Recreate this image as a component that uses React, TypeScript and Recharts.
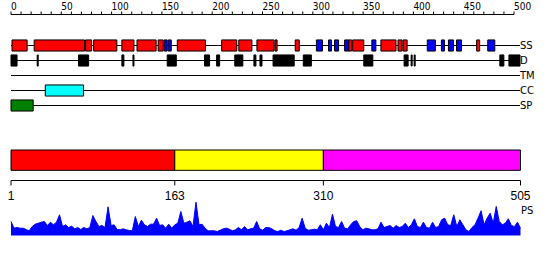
import React from 'react';
import { ComposedChart, AreaChart, Area, XAxis, YAxis, ReferenceArea } from 'recharts';

// track rows, top to bottom
const trackNames = ['SS', 'D', 'TM', 'CC', 'SP'];

// secondary structure: helix (red) and strand (blue), residue ranges
const helixSegments: [number, number][] = [
  [1, 16], [23, 73], [74, 80], [82, 105], [110, 122], [125, 144], [146, 151],
  [165, 193], [209, 224], [226, 239], [244, 261], [262, 264], [282, 286],
  [335, 338], [339, 350], [367, 382], [384, 388], [389, 393], [462, 465],
];
const strandSegments: [number, number][] = [
  [152, 155], [156, 159], [303, 309], [315, 318], [321, 325], [331, 335],
  [358, 362], [413, 421], [427, 430], [434, 439], [442, 447], [473, 480],
];
// disorder
const disorderSegments: [number, number][] = [
  [0, 6], [26, 27], [67, 77], [110, 112], [121, 122], [155, 164], [192, 197],
  [204, 207], [222, 230], [241, 243], [247, 249], [260, 281], [290, 298],
  [350, 359], [390, 394], [397, 398], [400, 401], [485, 489], [494, 505],
];
const tmSegments: [number, number][] = [];
const coiledCoilSegments: [number, number][] = [[34, 72]];
const signalPeptideSegments: [number, number][] = [[0, 22]];

const seqLength = 505;
const rulerTicks = Array.from({ length: 51 }, (_, i) => i * 10);

// domain boundaries and colours
const domainBounds = [1, 163, 310, 505];
const domainColors = ['#ff0000', '#ffff00', '#ff00ff'];

// PS profile, one value every 3 residues starting at residue 1
const psStart = 1;
const psStep = 3;
const psScores = [
  14, 7.3, 8, 7.3, 7.3, 6, 4.7, 9, 11.3, 12.3, 13.3, 14, 10, 13.3, 10.7, 13.3, 20.7,
  9, 10.7, 8, 9.3, 6.7, 8, 6, 8, 6.7, 8, 20, 14, 9, 10, 8, 28.7, 10, 10.7, 6, 5.7,
  6.7, 5.7, 5, 4.7, 19, 9, 15.3, 10.7, 9, 11.3, 11.3, 17.3, 10, 10.7, 7.3, 11.3,
  7.3, 10.7, 12.3, 24,
  12.3, 13.3, 14.7, 9, 33.3, 10.7, 11.3, 7.3, 4.7, 4.7, 4.7, 4, 5.3, 6.7, 7.3, 6.3,
  4.7, 5.7, 8, 5.7, 9, 5.7, 6.7, 7.3, 14, 6.7, 5.3, 8, 8, 6.7, 4.7, 4, 5.3, 4, 4.7,
  5.7, 6.7, 5.3, 8, 17.3, 7.3, 5.3, 5.7, 6.3, 5.7, 10.7, 5.7, 12.3, 8, 21.3, 9, 8,
  14, 7.3, 6.7, 10.7, 14,
  14.7, 9, 5.7, 7.3, 6.7, 5.7, 5.7, 6.7, 13.3, 8, 9, 10, 7.3, 10, 8, 9, 12.3, 8,
  10.7, 16.7, 9, 8, 13.3, 8, 7.3, 13.3, 8, 9, 15.7, 17.3, 10.7, 10, 20.7, 9, 15.7,
  10.7, 5.7, 4, 8, 10.7, 17.3, 24.7, 10.7, 17.3, 22.3, 12.3, 29, 14, 10.7, 12.3,
  16.7, 10, 9, 13.3, 7.3,
];

const psData = psScores.map((score, i) => ({ pos: psStart + i * psStep, score }));
const trackData = trackNames.map((name, i) => ({ pos: 0, row: i + 1, name }));
const domainData = domainBounds.map((pos) => ({ pos, level: 0 }));

const tracks = [
  { row: 1, segs: helixSegments, fill: '#ff0000' },
  { row: 1, segs: strandSegments, fill: '#0000ff' },
  { row: 2, segs: disorderSegments, fill: '#000000' },
  { row: 3, segs: tmSegments, fill: '#808080' },
  { row: 4, segs: coiledCoilSegments, fill: '#00ffff' },
  { row: 5, segs: signalPeptideSegments, fill: '#008000' },
];

const layer: React.CSSProperties = { position: 'absolute', left: 0, top: 0 };

function RulerTick(props: any) {
  const { x, y, payload } = props;
  if (payload.value % 50 !== 0) return <g />;
  return (
    <text
      x={x}
      y={y}
      fontSize={10}
      fontFamily="'Liberation Sans Narrow', 'DejaVu Sans Condensed', sans-serif"
      fill="#000"
    >
      {payload.value}
    </text>
  );
}

export default function App() {
  return (
    <div
      style={{
        position: 'absolute',
        left: 0,
        top: 0,
        width: 550,
        height: 260,
        background: '#fff',
        fontFamily: "'DejaVu Sans', sans-serif",
      }}
    >
      {/* ruler */}
      <div style={layer}>
        <ComposedChart
          width={550}
          height={30}
          data={rulerTicks.map((pos) => ({ pos }))}
          margin={{ top: 0, right: 36, bottom: 0, left: 11 }}
        >
          <XAxis
            type="number"
            dataKey="pos"
            orientation="top"
            domain={[0, 500]}
            allowDataOverflow
            ticks={rulerTicks}
            interval={0}
            height={14.5}
            tickSize={3}
            tickMargin={1.5}
            axisLine={{ stroke: '#000' }}
            tickLine={{ stroke: '#000' }}
            tick={(p: any) => <RulerTick {...p} />}
          />
          <YAxis hide domain={[0, 1]} />
        </ComposedChart>
      </div>

      {/* feature tracks */}
      <div style={layer}>
        <ComposedChart
          width={550}
          height={120}
          data={trackData}
          margin={{ top: 38, right: 0, bottom: 7, left: 11 }}
        >
          <XAxis
            type="number"
            dataKey="pos"
            hide
            domain={[0, seqLength]}
            allowDataOverflow
          />
          <YAxis
            type="number"
            dataKey="row"
            orientation="right"
            reversed
            domain={[0.5, 5.5]}
            allowDataOverflow
            ticks={[1, 2, 3, 4, 5]}
            interval={0}
            width={30}
            tickSize={0}
            tickMargin={0}
            axisLine={false}
            tickLine={false}
            tickFormatter={(v: number) => trackNames[v - 1]}
            tick={{ fill: '#000', fontSize: 10, fontFamily: 'DejaVu Sans' }}
          />
          {trackNames.map((name, i) => (
            <ReferenceArea
              key={'line-' + name}
              x1={0}
              x2={seqLength}
              y1={i + 1 - 1 / 30}
              y2={i + 1 + 1 / 30}
              fill="#000"
              fillOpacity={1}
              stroke="none"
              ifOverflow="visible"
            />
          ))}
          {tracks.map((t) =>
            t.segs.map(([s, e]) => (
              <ReferenceArea
                key={`${t.row}-${t.fill}-${s}`}
                x1={s}
                x2={e}
                y1={t.row - 0.37}
                y2={t.row + 0.37}
                fill={t.fill}
                fillOpacity={1}
                stroke="#000"
                strokeWidth={1}
                ifOverflow="visible"
              />
            )),
          )}
        </ComposedChart>
      </div>

      {/* domains */}
      <div style={layer}>
        <ComposedChart
          width={550}
          height={260}
          data={domainData}
          margin={{ top: 150, right: 29.5, bottom: 49.5, left: 11 }}
        >
          <XAxis
            type="number"
            dataKey="pos"
            domain={[1, seqLength]}
            allowDataOverflow
            ticks={domainBounds}
            interval={0}
            height={30}
            tickSize={5}
            tickMargin={6}
            axisLine={{ stroke: '#000' }}
            tickLine={{ stroke: '#000' }}
            tick={{ fill: '#000', fontSize: 12, fontFamily: 'Liberation Sans' }}
          />
          <YAxis hide dataKey="level" type="number" domain={[-0.5, 1]} allowDataOverflow />
          {domainColors.map((c, i) => (
            <ReferenceArea
              key={c}
              x1={domainBounds[i]}
              x2={domainBounds[i + 1]}
              y1={0}
              y2={1}
              fill={c}
              fillOpacity={1}
              stroke="#000"
              strokeWidth={1}
              ifOverflow="visible"
            />
          ))}
        </ComposedChart>
      </div>

      {/* PS profile */}
      <div style={layer}>
        <AreaChart
          width={550}
          height={260}
          data={psData}
          margin={{ top: 200.5, right: 29.5, bottom: 24.5, left: 11 }}
        >
          <XAxis type="number" dataKey="pos" domain={[1, seqLength]} hide />
          <YAxis hide domain={[0, 35]} />
          <Area
            type="linear"
            dataKey="score"
            stroke="#0000ff"
            strokeWidth={1}
            fill="#0000ff"
            fillOpacity={1}
            dot={false}
            activeDot={false}
            isAnimationActive={false}
          />
        </AreaChart>
      </div>
      <div
        style={{
          position: 'absolute',
          left: 521,
          top: 205,
          fontSize: 10,
          lineHeight: '12px',
          fontFamily: "'DejaVu Sans', sans-serif",
          color: '#000',
        }}
      >
        PS
      </div>
    </div>
  );
}
